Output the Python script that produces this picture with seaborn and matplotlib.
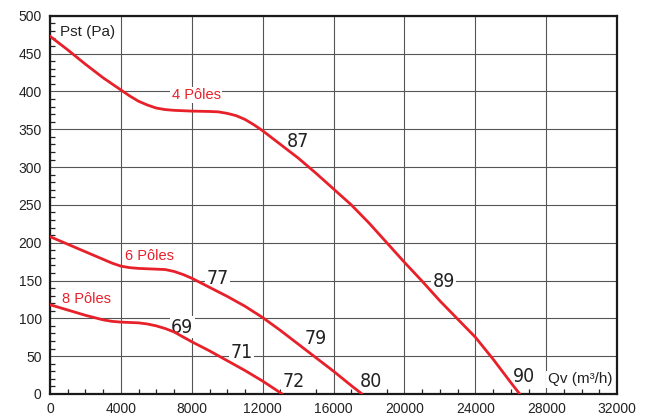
import matplotlib
matplotlib.use("Agg")
import matplotlib.pyplot as plt
from matplotlib import font_manager
from matplotlib.ticker import MultipleLocator
import pandas as pd
import seaborn as sns

# curve data: flow Qv (m3/h) vs static pressure Pst (Pa)
qv_4p = [0, 1000, 2000, 3000, 4000, 4500, 5000, 5500, 6000, 6500, 7000, 8000, 9000, 9500,
         10000, 10500, 11000, 11500, 12000, 12500, 13000, 14000, 15000, 16000, 17000, 18000,
         19000, 20000, 21000, 22000, 23000, 24000, 25000, 26000, 26500]
pst_4p = [473, 455, 436, 418, 402, 394, 387, 382, 378, 376, 375, 374, 373.5, 373,
          371, 368, 363, 356, 348, 339, 330, 312, 292, 271, 250, 226,
          200, 174, 149, 123, 99, 75, 46, 15, 0]

qv_6p = [0, 1000, 2000, 3000, 3500, 4000, 4500, 5000, 6000, 6500, 7000, 7500, 8000, 9000,
         10000, 11000, 12000, 13000, 14000, 15000, 16000, 17000, 17600]
pst_6p = [208, 198, 188, 178, 173, 169, 167, 166, 165, 164.5, 162, 158, 153, 141,
          129, 116, 101, 84, 66, 48, 30, 11, 0]

qv_8p = [0, 1000, 2000, 3000, 3500, 4000, 4500, 5000, 5500, 6000, 6500, 7000, 8000, 9000,
         10000, 11000, 12000, 13100]
pst_8p = [118, 111, 104, 98, 96, 95, 94.5, 94, 92.5, 90, 86.5, 82, 69, 57,
          44, 31, 17, 0]

curve_names = ["4 Pôles", "6 Pôles", "8 Pôles"]

# curve name labels (text, x, baseline y)
pole_labels = [("4 Pôles", 8260, 390), ("6 Pôles", 5640, 177), ("8 Pôles", 2050, 120)]
# sound level labels along the curves (text, x, baseline y)
db_labels = [("87", 13970, 327), ("89", 22225, 141), ("90", 26740, 16),
             ("77", 9450, 146), ("79", 14970, 66), ("80", 18100, 9),
             ("69", 7450, 81), ("71", 10820, 47), ("72", 13760, 9)]

x_ticks = list(range(0, 32001, 4000))
y_ticks = list(range(0, 501, 50))

RED = "#e8202a"
DARK = "#222222"

frames = []
for name, q, p in zip(curve_names, [qv_4p, qv_6p, qv_8p], [pst_4p, pst_6p, pst_8p]):
    frames.append(pd.DataFrame({"Qv": q, "Pst": p, "curve": name}))
data = pd.concat(frames, ignore_index=True)

sns.set_style("white")
plt.rcParams["font.family"] = ["Liberation Sans", "DejaVu Sans"]

# the numbers on the curves use a condensed face; pick what is installed
fonts = font_manager.fontManager.ttflist
names = {f.name for f in fonts}
if "Liberation Sans Narrow" in names:
    num_font = dict(family=["Liberation Sans Narrow", "DejaVu Sans"], fontsize=15)
elif any(f.name == "DejaVu Sans" and "condensed" in str(f.stretch) for f in fonts):
    num_font = dict(family=["DejaVu Sans"], fontstretch="condensed", fontsize=14)
else:
    num_font = dict(family=["Liberation Sans", "DejaVu Sans"], fontsize=13)

fig = plt.figure(figsize=(6.49, 4.16), dpi=100)
ax = fig.add_axes([0.077, 0.053, 0.874, 0.909])

sns.lineplot(
    data=data, x="Qv", y="Pst", hue="curve",
    palette=[RED] * 3, sort=False, estimator=None,
    linewidth=2.0, legend=False, ax=ax, zorder=3,
)
for line in ax.lines:
    line.set_solid_joinstyle("round")

ax.set_xlim(0, 32000)
ax.set_ylim(0, 500)
ax.set_xticks(x_ticks)
ax.set_yticks(y_ticks)
ax.xaxis.set_minor_locator(MultipleLocator(1000))
ax.yaxis.set_minor_locator(MultipleLocator(10))
ax.set_xlabel("")
ax.set_ylabel("")

ax.grid(True, which="major", color="#555555", linewidth=0.8)
ax.set_axisbelow(True)
ax.tick_params(which="major", direction="in", length=0, pad=6,
               labelsize=10, labelcolor=DARK)
ax.tick_params(which="minor", direction="in", length=3.5, width=0.9, color="#222222",
               top=False, right=False)
ax.tick_params(axis="x", which="minor", bottom=True)
ax.tick_params(axis="y", which="minor", left=True)

for s in ax.spines.values():
    s.set_visible(True)
    s.set_linewidth(1.6)
    s.set_color("#1a1a1a")

box = dict(facecolor="white", edgecolor="none", pad=1.0)

for t, x, y in pole_labels:
    ax.text(x, y, t, color=RED, fontsize=10.5, ha="center", va="baseline",
            bbox=box, zorder=2.5)

for t, x, y in db_labels:
    ax.text(x, y, t, color=DARK, ha="center", va="baseline", bbox=box,
            zorder=2.5, **num_font)

ax.text(560, 473, "Pst (Pa)", color=DARK, fontsize=11, ha="left", va="baseline",
        bbox=box, zorder=2.5)
ax.text(28085, 14, "Qv (m³/h)", color=DARK, fontsize=11, ha="left", va="baseline",
        bbox=box, zorder=2.5)

fig.savefig("out.png", dpi=100)
